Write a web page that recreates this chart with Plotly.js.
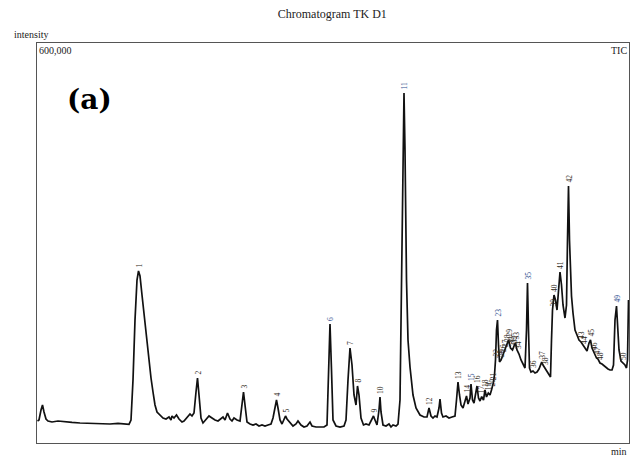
<!DOCTYPE html>
<html>
<head>
<meta charset="utf-8">
<script src="https://cdn.plot.ly/plotly-3.0.1.min.js"></script>
<style>html,body{margin:0;padding:0;background:#fff;}#chart{width:633px;height:456px;}</style>
</head>
<body>
<div id="chart"></div>
<script>
// Retention time (min) and TIC intensity
var retentionTime = [0.05,0.2,0.4,0.55,0.7,0.9,1.1,1.5,2.1,2.8,3.5,4.3,5.3,6.3,7.3,8.1,8.8,9.2,9.4,9.6,9.8,10.0,10.15,10.3,10.5,10.8,11.1,11.4,11.6,11.8,12.0,12.2,12.4,12.6,12.9,13.2,13.4,13.5,13.7,13.95,14.2,14.5,14.7,15.0,15.3,15.5,15.7,15.9,16.05,16.2,16.4,16.6,16.9,17.2,17.5,17.8,18.1,18.4,18.6,18.8,19.05,19.3,19.5,19.7,20.0,20.3,20.5,20.65,20.8,21.0,21.3,21.6,21.9,22.2,22.5,22.8,23.1,23.4,23.6,23.8,23.95,24.1,24.3,24.5,24.7,24.85,25.0,25.3,25.6,25.9,26.1,26.4,26.7,27.0,27.3,27.5,27.9,28.3,28.7,29.0,29.15,29.3,29.45,29.6,29.9,30.3,30.7,30.9,31.1,31.3,31.5,31.7,31.9,32.05,32.2,32.4,32.65,32.9,33.2,33.5,33.65,33.8,34.0,34.2,34.3,34.4,34.6,34.9,35.2,35.4,35.6,35.9,36.1,36.3,36.45,36.6,36.7,36.8,36.95,37.1,37.3,37.6,37.9,38.3,38.7,39.0,39.2,39.4,39.6,39.8,40.0,40.2,40.3,40.45,40.6,40.9,41.2,41.5,41.8,41.95,42.1,42.25,42.4,42.6,42.8,42.95,43.1,43.3,43.4,43.55,43.7,43.9,44.0,44.15,44.3,44.47,44.65,44.8,44.95,45.13,45.3,45.45,45.63,45.75,45.85,45.95,46.05,46.15,46.25,46.4,46.6,46.8,47.0,47.15,47.35,47.55,47.7,47.85,48.0,48.2,48.4,48.6,48.8,48.95,49.05,49.15,49.25,49.4,49.6,49.8,50.0,50.2,50.47,50.6,50.8,51.0,51.2,51.35,51.45,51.55,51.7,51.85,52.0,52.15,52.3,52.45,52.6,52.8,52.95,53.05,53.15,53.25,53.35,53.45,53.6,53.8,54.0,54.2,54.4,54.6,54.8,55.0,55.2,55.35,55.5,55.7,55.95,56.1,56.3,56.5,56.8,57.1,57.3,57.5,57.65,57.8,57.95,58.1,58.2,58.4,58.6,58.8,58.95,59.05,59.15];
var intensity = [33000,34500,49500,57000,46500,36000,33000,31500,33000,31500,30800,30000,29300,28500,28500,29300,28500,27800,34500,94500,184500,244500,258000,250500,222000,177000,132000,97500,76500,57000,46500,43500,39000,37500,36000,39000,34500,40500,37500,42000,36000,31500,33000,37500,43500,40500,45000,76500,97500,72000,37500,30000,34500,40500,37500,34500,33000,36000,39000,34500,45000,36000,33000,37500,34500,33000,57000,76500,57000,31500,28500,27000,28500,25500,27000,25500,27000,28500,37500,55500,64500,52500,34500,28500,36000,40500,36000,30000,25500,28500,33000,27000,24000,25500,31500,25500,24000,24000,24000,27000,109500,178500,109500,34500,25500,24000,25500,34500,94500,142500,117000,72000,57000,85500,72000,37500,27000,28500,27000,37500,40500,34500,27000,49500,69000,46500,27000,25500,28500,24000,27000,25500,28500,64500,214500,439500,525000,439500,244500,154500,114000,72000,52500,42000,39000,39000,52500,40500,37500,40500,39000,52500,66000,45000,39000,40500,37500,39000,40500,64500,91500,72000,57000,52500,64500,70500,58500,67500,88500,64500,60000,75000,85500,67500,63000,69500,64500,79500,69000,75000,72000,79500,90000,102000,124500,169500,184500,147000,121500,124500,132000,139500,147000,154500,142500,139500,145500,150000,139500,133500,124500,118500,112500,169500,240000,169500,112500,106500,108000,105000,106500,111000,121500,117000,112500,106500,102000,99000,154500,199500,222000,214500,199500,237000,256500,237000,207000,187500,207000,304500,385500,304500,240000,220500,195000,169500,162000,154500,151500,147000,142500,138000,150000,154500,142500,135000,127500,126000,120000,118500,114000,111000,109500,109500,117000,184500,205500,169500,139500,123000,120000,117000,112500,124500,214500];

// Peak numbers with apex positions
var peakLabels = ["1","2","3","4","5","6","7","8","9","10","11","12","13","14","15","16","17","18","19","20","21","22","23","24","25","26","27","28","29","30","31","32","33","34","35","36","37","38","39","40","41","42","43","44","45","46","47","48","49","50"];
var peakTimes = [10.15,16.05,20.65,23.95,24.85,29.3,31.3,32.05,33.65,34.3,36.7,39.2,42.1,42.95,43.4,44.0,44.47,44.8,45.13,45.45,45.63,45.85,46.05,46.25,46.4,46.6,46.8,47.0,47.15,47.35,47.55,47.7,47.85,48.1,49.05,49.6,50.47,50.8,51.55,51.7,52.3,53.15,54.4,54.7,55.35,55.7,55.95,56.3,57.95,58.6];
var peakHeights = [258000,97500,76500,64500,40500,178500,142500,85500,40500,69000,525000,52500,91500,70500,88500,85500,69500,79500,75000,79500,90000,124500,184500,121500,124500,132000,139500,147000,154500,142500,139500,145500,150000,136500,240000,108000,121500,112500,199500,222000,256500,385500,151500,144000,154500,135000,127500,120000,205500,120000];

var blueSet = {"6":1,"15":1,"23":1,"35":1,"49":1,"11":1};
var serif = "Liberation Serif, Times New Roman, serif";

var annotations = [];
for (var i = 0; i < peakLabels.length; i++) {
  annotations.push({
    x: peakTimes[i], y: peakHeights[i], xref: 'x', yref: 'y',
    text: peakLabels[i], showarrow: false, textangle: -90,
    xanchor: 'center', yanchor: 'bottom', yshift: 1,
    font: {family: serif, size: 7.5, color: blueSet[peakLabels[i]] ? '#2f4f8f' : '#2e2820'}
  });
}
annotations.push(
  {xref:'paper', yref:'paper', x:0, y:1, xanchor:'left', yanchor:'bottom', xshift:-25, yshift:1, text:'intensity', showarrow:false, font:{family:serif, size:10, color:'#222'}},
  {xref:'paper', yref:'paper', x:0, y:1, xanchor:'left', yanchor:'top', text:'600,000', showarrow:false, font:{family:serif, size:10, color:'#222'}},
  {xref:'paper', yref:'paper', x:1, y:1, xanchor:'right', yanchor:'top', text:'TIC', showarrow:false, font:{family:serif, size:10, color:'#222'}},
  {xref:'paper', yref:'paper', x:1, y:0, xanchor:'right', yanchor:'top', yshift:-1, text:'min', showarrow:false, font:{family:serif, size:10, color:'#222'}},
  {xref:'paper', yref:'paper', x:0.048, y:0.8575, xanchor:'left', yanchor:'middle', text:'<b>(a)</b>', showarrow:false, font:{family:'DejaVu Serif, serif', size:28, color:'#000'}}
);

var trace = {
  x: retentionTime, y: intensity, type: 'scatter', mode: 'lines',
  line: {color: '#111', width: 1.7}, hoverinfo: 'none'
};

var layout = {
  width: 633, height: 456,
  margin: {l: 37, r: 4, t: 43, b: 13},
  paper_bgcolor: '#fff', plot_bgcolor: '#fff',
  showlegend: false,
  title: {text: 'Chromatogram TK D1', x: 0.525, xanchor: 'center', y: 0.97, yanchor: 'middle', font: {family: serif, size: 12, color: '#222'}},
  xaxis: {range: [0, 59.2], showgrid: false, zeroline: false, showticklabels: false, ticks: '', showline: true, mirror: true, linecolor: '#555', linewidth: 1},
  yaxis: {range: [0, 600000], showgrid: false, zeroline: false, showticklabels: false, ticks: '', showline: true, mirror: true, linecolor: '#555', linewidth: 1},
  annotations: annotations
};

Plotly.newPlot('chart', [trace], layout, {staticPlot: true, displayModeBar: false});
</script>
</body>
</html>
